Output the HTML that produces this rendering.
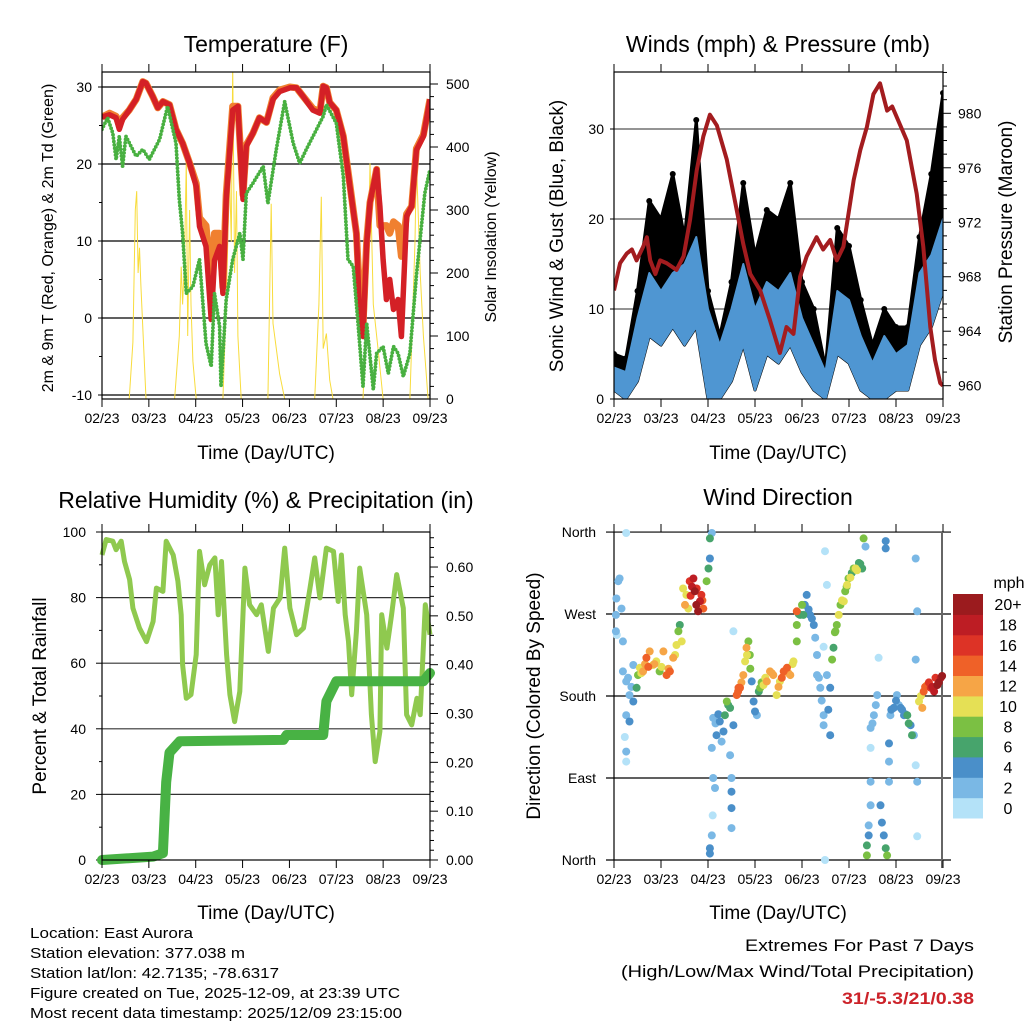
<!DOCTYPE html>
<html><head><meta charset="utf-8"><title>Station Meteogram</title>
<style>
html,body{margin:0;padding:0;background:#fff;}
svg{display:block;font-family:"Liberation Sans",Arial,sans-serif;}
</style></head>
<body>
<svg id="chart" width="1024" height="1024" viewBox="0 0 1024 1024" xmlns="http://www.w3.org/2000/svg">
<defs>
<clipPath id="c1"><rect x="102" y="72" width="328" height="327"/></clipPath>
<clipPath id="c2"><rect x="614" y="72" width="329" height="327"/></clipPath>
<clipPath id="c3"><rect x="96" y="525" width="340" height="340"/></clipPath>
</defs>
<rect width="1024" height="1024" fill="#fff"/>
<g id="p1"></g>
<g id="p2"></g>
<g id="p3"></g>
<g id="p4"></g>

<text x="266" y="52" font-size="23" text-anchor="middle">Temperature (F)</text>
<text x="778" y="52" font-size="23" text-anchor="middle">Winds (mph) &amp; Pressure (mb)</text>
<text x="266" y="508" font-size="23" text-anchor="middle">Relative Humidity (%) &amp; Precipitation (in)</text>
<text x="778" y="505" font-size="23" text-anchor="middle">Wind Direction</text>

<text x="266" y="459" font-size="19" text-anchor="middle">Time (Day/UTC)</text>
<text x="778" y="459" font-size="19" text-anchor="middle">Time (Day/UTC)</text>
<text x="266" y="919" font-size="19" text-anchor="middle">Time (Day/UTC)</text>
<text x="778" y="919" font-size="19" text-anchor="middle">Time (Day/UTC)</text>

<text transform="translate(53,238) rotate(-90)" font-size="16" text-anchor="middle">2m &amp; 9m T (Red, Orange) &amp; 2m Td (Green)</text>
<text transform="translate(496,237) rotate(-90)" font-size="16" text-anchor="middle">Solar Insolation (Yellow)</text>
<text transform="translate(563,236) rotate(-90)" font-size="19" text-anchor="middle">Sonic Wind &amp; Gust (Blue, Black)</text>
<text transform="translate(1012,232) rotate(-90)" font-size="19" text-anchor="middle">Station Pressure (Maroon)</text>
<text transform="translate(46,696) rotate(-90)" font-size="19" text-anchor="middle">Percent &amp; Total Rainfall</text>
<text transform="translate(540,696) rotate(-90)" font-size="19" text-anchor="middle">Direction (Colored By Speed)</text>

<g font-size="15">
<text x="30" y="938" textLength="163" lengthAdjust="spacingAndGlyphs">Location: East Aurora</text>
<text x="30" y="958" textLength="215" lengthAdjust="spacingAndGlyphs">Station elevation: 377.038 m</text>
<text x="30" y="978" textLength="249" lengthAdjust="spacingAndGlyphs">Station lat/lon: 42.7135; -78.6317</text>
<text x="30" y="998" textLength="370" lengthAdjust="spacingAndGlyphs">Figure created on Tue, 2025-12-09, at 23:39 UTC</text>
<text x="30" y="1018" textLength="372" lengthAdjust="spacingAndGlyphs">Most recent data timestamp: 2025/12/09 23:15:00</text>
</g>
<g font-size="17">
<text x="974" y="951" text-anchor="end" textLength="229" lengthAdjust="spacingAndGlyphs">Extremes For Past 7 Days</text>
<text x="974" y="977" text-anchor="end" textLength="353" lengthAdjust="spacingAndGlyphs">(High/Low/Max Wind/Total Precipitation)</text>
<text x="974" y="1004" text-anchor="end" font-weight="bold" fill="#cc2229" textLength="132" lengthAdjust="spacingAndGlyphs">31/-5.3/21/0.38</text>
</g>
</svg>
<script>
// ---------- DATA ----------
const dayLabels = ["02/23","03/23","04/23","05/23","06/23","07/23","08/23","09/23"];
// Temperature panel
const tDay = [0,0.16,0.30,0.37,0.44,0.58,0.73,0.87,0.94,1.08,1.19,1.30,1.44,1.58,1.72,1.87,2.01,2.08,2.22,2.33,2.40,2.51,2.58,2.65,2.79,2.90,3.01,3.08,3.22,3.36,3.51,3.65,3.79,4.01,4.15,4.29,4.50,4.65,4.72,4.79,4.86,5.00,5.15,5.29,5.43,5.50,5.57,5.65,5.72,5.86,5.93,6.00,6.07,6.14,6.22,6.32,6.39,6.50,6.61,6.71,6.86,7.00];
const temp2m = [26.1,26.4,26,24.5,25.8,27,28.4,30.7,30.5,28.8,27.3,28.1,27.7,24.5,22.7,20.1,17.1,11.9,9.3,-0.2,7.5,9.3,3.2,15.4,27,27.5,15.4,22.3,24,26,25.4,28.4,29.4,29.9,29.9,28.8,27,26.6,30.1,29.9,28,27,23.6,17.1,11,-0.2,-2.4,9.7,15,19.3,14.5,7.6,2.4,5,1.1,2.4,-2.4,13.2,14.5,21.8,23.6,28.4];
const temp9m = [26.1,26.6,26.2,25,26,27,28.4,30.7,30.5,28.8,27.3,28.1,27.7,24.5,22.7,20.1,17.5,13,12,5,11,11,4,16,27.5,27.5,16,22.5,24,26,25.4,28.6,29.6,30,29.9,28.8,27.2,26.8,30.1,29.9,28,27,23.6,17.3,11,3,-1,10,15,19.3,12,12,12,11,12.5,12,8,13.5,14.5,22,23.8,28.4];
const tdDay = [0,0.12,0.23,0.30,0.37,0.44,0.51,0.73,0.87,1.01,1.23,1.40,1.58,1.65,1.72,1.80,1.94,2.08,2.22,2.33,2.40,2.51,2.54,2.65,2.79,2.94,3.01,3.08,3.22,3.44,3.54,3.72,3.90,4.08,4.22,4.36,4.58,4.72,4.79,5.00,5.15,5.25,5.36,5.47,5.57,5.65,5.79,5.86,6.00,6.11,6.22,6.32,6.43,6.57,6.71,6.89,7.00];
const dewpoint = [24.5,26,24,20.6,23.6,19.7,23.6,21,21.9,20.6,23.2,27.5,22.7,15.4,11,3.2,4.1,7.6,-3.3,-6.3,3.2,-1.1,-8.9,2.4,7.6,11,7.6,16.2,17.5,19.7,14.9,21.9,28.1,22.7,20.1,21.9,24.5,26.2,27.7,25.3,18.4,7.6,6.7,-1.1,-8.9,-0.7,-9.3,-4.6,-3.7,-7.2,-3.7,-4.6,-7.6,-4.6,5.5,16.2,19.3];
const solarDay = [0,0.58,0.66,0.71,0.74,0.77,0.80,0.83,0.91,0.94,1.55,1.65,1.69,1.72,1.76,1.80,1.83,1.87,1.90,1.94,2.01,2.58,2.65,2.72,2.76,2.79,2.83,2.87,2.90,2.97,3.54,3.61,3.65,3.72,3.79,3.90,4.54,4.63,4.68,4.72,4.79,4.86,4.93,5.57,5.68,5.72,5.79,5.89,6.00,6.57,6.68,6.71,6.79,6.86,6.96,7.00];
const solarVal = [0,0,90,300,330,200,240,180,50,0,0,100,210,150,220,379,100,300,150,60,0,0,150,360,250,530,200,330,100,0,0,310,120,80,40,0,0,150,321,80,104,30,0,0,200,374,150,80,0,0,250,380,200,100,0,0];
// Winds panel
const windDay = [0,0.25,0.5,0.75,1,1.25,1.5,1.75,2,2.25,2.5,2.75,3,3.25,3.5,3.75,4,4.25,4.5,4.75,5,5.25,5.5,5.75,6,6.25,6.5,6.75,7];
const windLow = [1,0,2,7,6,8,6,8,0,0,2,6,1,5,4,6,3,1,0,5,4,1,0,0,1,1,6,8,12];
const windHigh = [3.5,3,9,14,12,14,15,18,10,6,10,15,10,13,12,14,9,6,3,12,11,7,4,7,5,6,14,16,20];
const gustHigh = [5,4.5,12,22,20,25,18,31,12,7,13,24,16,21,20,24,13,10,3.5,19,17,11,6,10,8,8,18,25,34];
const presDay = [0,0.13,0.27,0.38,0.48,0.62,0.70,0.77,0.88,0.98,1.12,1.33,1.48,1.62,1.76,1.90,2.04,2.19,2.40,2.61,2.75,2.90,3.11,3.32,3.53,3.67,3.82,3.96,4.10,4.31,4.45,4.60,4.74,4.88,5.10,5.24,5.38,5.52,5.66,5.81,5.92,6.23,6.44,6.58,6.73,6.83,6.94,7.00];
const pressure = [967.0,969.0,969.7,970.0,969.2,970.2,970.9,969.2,968.2,969.2,969.0,968.5,969.5,972.2,975.8,978.3,979.9,979.1,976.6,972.9,970.4,968.2,967.0,964.8,962.4,964.3,963.8,968.0,969.5,970.9,970.0,970.7,969.2,970.2,975.1,977.3,979.0,981.4,982.2,980.2,980.5,978.0,974.1,970.2,964.3,961.9,960.2,960.0];
// Humidity panel
const rhDay = [0,0.09,0.23,0.30,0.41,0.48,0.59,0.66,0.80,0.95,1.09,1.16,1.30,1.37,1.52,1.62,1.69,1.72,1.80,1.90,2.01,2.08,2.19,2.30,2.41,2.48,2.55,2.66,2.73,2.83,2.94,3.05,3.15,3.30,3.40,3.55,3.66,3.80,3.90,4.01,4.15,4.30,4.44,4.54,4.65,4.79,4.94,5.04,5.11,5.19,5.26,5.33,5.43,5.50,5.65,5.75,5.83,5.93,5.97,6.08,6.18,6.29,6.43,6.50,6.61,6.72,6.79,6.90,7.00];
const rh = [93,97.7,97.2,94.6,97.2,91,85.5,76.8,70.7,66.6,72.7,82.9,81.9,97.2,93,85,74.8,59.5,49.3,50.4,62.6,94.1,83.9,90,92.1,74.8,91,62.6,50.4,42.2,51.4,89,77.8,74.8,77.8,63.6,76.8,79.9,95.1,76.8,68.7,70.7,82.9,92.1,79.9,95.1,94.1,78.8,93,74.8,66.6,50.4,69.7,89,74.8,44.3,30,39.2,74.8,64.6,74.8,87,76.8,44.3,41.2,49.3,44.3,77.8,68.7];
const precipDay = [0,1.09,1.30,1.37,1.44,1.66,3.87,3.94,4.72,4.79,5.00,5.15,6.86,7.00];
const precip = [0,0.007,0.014,0.16,0.22,0.243,0.246,0.256,0.256,0.325,0.366,0.366,0.366,0.383];
// Wind direction panel
const dirDay = [0.04,0.05,0.09,0.12,0.04,0.16,0.06,0.26,0.19,0.19,0.26,0.33,0.26,0.33,0.41,0.41,0.26,0.26,0.23,0.48,0.51,0.55,0.62,0.69,0.76,0.83,0.90,0.97,1.05,1.12,1.19,1.26,1.33,1.37,1.40,1.44,1.47,1.51,1.54,1.61,1.69,1.76,1.83,1.79,1.86,1.90,1.72,1.58,1.97,2.01,2.04,2.04,2.08,2.04,2.04,2.08,2.10,2.11,2.15,2.08,2.11,2.18,2.25,2.29,2.33,2.40,2.47,2.36,2.50,2.50,2.50,2.50,2.54,2.47,2.54,2.61,2.65,2.68,2.75,2.79,2.82,2.86,2.89,2.93,2.97,3.00,3.04,3.11,3.18,3.25,3.32,3.39,3.46,3.53,3.61,3.68,3.75,3.82,3.89,3.89,3.89,3.96,4.00,4.03,4.10,4.17,4.25,4.28,4.32,4.32,4.39,4.46,4.46,4.60,4.60,4.53,4.49,4.53,4.46,4.49,4.64,4.67,4.71,4.74,4.78,4.82,4.89,4.92,4.96,4.99,5.06,5.14,5.21,5.28,5.31,5.35,5.38,5.38,5.42,5.42,5.46,5.46,5.46,5.46,5.53,5.60,5.63,5.67,5.70,5.74,5.78,5.81,5.78,5.78,5.85,5.85,5.85,5.88,5.95,6.02,6.10,6.17,6.24,6.31,6.34,6.38,6.42,6.45,6.42,6.42,6.45,6.45,6.49,6.56,6.59,6.66,6.74,6.81,6.88,6.95,6.98,6.84,
0.30,0.37,0.58,0.66,0.73,0.86,1.01,1.16,1.30,1.63,1.66,1.75,1.88,2.16,2.22,2.43,2.64,2.71,2.83,2.90,3.08,3.14,3.22,3.36,3.50,3.57,3.71,3.80,3.93,4.06,4.14,4.21,4.36,4.42,4.56,4.70,4.85,4.95,5.03,5.10,5.17,5.24,5.50,5.57,5.90,6.00,6.06,6.13,6.20,6.27,6.53,6.62,6.70,6.77,6.91];
const dirDeg = [269,287,306,309,251,276,247,359,240,207,196,181,159,152,174,214,119,108,135,189,203,211,207,222,229,214,218,207,229,203,207,222,236,251,258,240,298,280,291,306,309,298,284,273,291,276,295,276,306,320,331,353,359,7,13,27,49,90,79,123,156,137,152,130,141,174,167,159,90,75,35,57,148,115,251,181,189,189,203,218,233,240,225,196,174,163,159,189,192,196,207,203,181,196,207,211,203,218,240,258,273,269,280,269,291,269,258,244,225,203,189,159,148,137,189,203,339,302,234,0,220,233,251,258,269,280,284,295,302,309,315,320,326,320,353,344,16,5,27,38,60,86,123,145,159,181,222,60,41,27,13,5,350,342,86,108,128,159,167,181,167,159,159,148,137,137,104,86,220,331,273,26,174,167,185,192,189,185,192,200,202,200,
200,190,205,215,212,215,212,210,225,290,300,280,285,150,160,170,185,195,225,210,185,195,200,205,190,200,205,215,270,280,275,265,200,175,165,250,285,300,310,320,318,325,150,170,165,175,170,165,160,150,180,190,195,190,195];
const dirSpd = [2,2,2,2,2,2,1,0,2,2,2,2,2,4,4,2,2,1,1,6,8,10,12,14,12,10,10,8,12,14,14,12,10,8,6,10,10,12,10,16,18,16,18,20,16,14,20,10,8,6,4,6,2,4,4,2,1,2,2,2,2,4,4,2,4,8,6,6,2,4,2,4,4,2,1,14,14,14,12,10,12,8,8,4,4,4,2,8,10,12,12,12,10,10,14,14,12,10,8,8,14,6,8,6,4,4,4,2,2,2,2,2,2,4,4,2,1,1,1,1,8,6,8,8,10,8,10,8,10,8,6,10,6,6,8,2,6,8,4,2,2,2,1,2,2,2,1,4,4,4,6,8,4,4,2,2,4,2,4,2,4,4,6,4,6,2,1,2,2,2,2,1,10,12,14,12,16,18,20,18,20,16,
2,2,10,12,14,12,10,12,10,16,18,20,14,2,4,6,14,12,10,8,6,8,10,12,12,14,12,10,6,4,4,4,2,2,4,8,10,8,10,8,10,6,2,2,4,4,2,4,4,6,10,14,16,18,20];
const speedColors = ["#b4e2f8","#7ab8e5","#4a8fc9","#47a46c","#7bc043","#e5e055","#f6a546","#ef6128","#dd3326","#bd1d24","#9b1b1e"];
const colorbarLabels = ["0","2","4","6","8","10","12","14","16","18","20+"];
const dirLabels = ["North","East","South","West","North"];
const dirTicks = [0,90,180,270,360];

// ---------- SCALES ----------
const NS="http://www.w3.org/2000/svg";
const xL = d => 102 + d*(328/7);
const xR = d => 614 + d*(329/7);
const yT = v => 318 - v*7.7;
const yS = v => 399 - v*0.63;
const yW = v => 399 - v*9;
const yP = p => 385.7 - (p-960)*13.62;
const yRH = v => 860 - v*3.28;
const yPr = v => 860 - v*488.3;
const yD = d => 860 - d*0.911;

function el(tag, parent, attrs){
  const e=document.createElementNS(NS,tag);
  for(const k in attrs) e.setAttribute(k,attrs[k]);
  parent.appendChild(e);
  return e;
}
function pts(xs,ys,fx,fy){return xs.map((d,i)=>fx(d).toFixed(1)+","+fy(ys[i]).toFixed(1)).join(" ");}
function line(p,x1,y1,x2,y2,stroke,w,name){
  const e=el("line",p,{x1:x1,y1:y1,x2:x2,y2:y2,stroke:stroke,"stroke-width":w});
  
  
  return e;
}
function txt(p,x,y,s,anchor,size,name){
  const e=el("text",p,{x:x,y:y,"text-anchor":anchor,"font-size":size});
  e.textContent=s;
  
  
  return e;
}
function xAxis(p,fx,yb,yt){
  dayLabels.forEach((lab,i)=>{
    const x=fx(i);
    line(p,x,yb,x,yb+8,"#000",1,"x-tick");
    line(p,x,yt,x,yt-8,"#000",1,"x-tick-top");
    txt(p,x,yb+24,lab,"middle",14,"x-tick-label");
  });
}

// ---------- PANEL 1 ----------
(function(){
  const p=document.getElementById("p1");
  [30,20,10,0,-10].forEach(v=>{
    line(p,102,yT(v),430,yT(v),"#000",1.2,"temp-gridline");
    line(p,98,yT(v),102,yT(v),"#000",1,"temp-y-tick");
    txt(p,92,yT(v)+5,String(v),"end",14,"temp-y-tick-label");
  });
  for(let v=-5;v<=25;v+=10) line(p,99,yT(v),102,yT(v),"#000",1,"temp-minor-tick");
  [0,100,200,300,400,500].forEach(v=>{
    line(p,430,yS(v),438,yS(v),"#000",1,"solar-y-tick");
    txt(p,446,yS(v)+5,String(v),"start",14,"solar-y-tick-label");
  });
  for(let v=20;v<=500;v+=20) if(v%100) line(p,430,yS(v),434,yS(v),"#000",1,"solar-minor-tick");
  const g=el("g",p,{"clip-path":"url(#c1)"});
  const sol=el("polyline",g,{points:pts(solarDay,solarVal,xL,yS),fill:"none",stroke:"#f8dc3c","stroke-width":1});
  
  
  const o=el("polyline",g,{points:pts(tDay,temp9m,xL,yT),fill:"none",stroke:"#f08030","stroke-width":7,"stroke-linejoin":"round"});
  
  
  const r=el("polyline",g,{points:pts(tDay,temp2m,xL,yT),fill:"none",stroke:"#d42026","stroke-width":5.5,"stroke-linejoin":"round"});
  
  
  const gr=el("polyline",g,{points:pts(tdDay,dewpoint,xL,yT),fill:"none",stroke:"#48b040","stroke-width":3.8,"stroke-dasharray":"0 3.4","stroke-linecap":"round","stroke-linejoin":"round"});
  
  
  const fr=el("rect",p,{x:102,y:72,width:328,height:327,fill:"none",stroke:"#000","stroke-width":1.2});
  
  
  xAxis(p,xL,399,72);
})();

// ---------- PANEL 2 ----------
(function(){
  const p=document.getElementById("p2");
  [10,20,30].forEach(v=>line(p,614,yW(v),943,yW(v),"#555",1.2,"wind-gridline"));
  [0,10,20,30].forEach(v=>{
    line(p,610,yW(v),614,yW(v),"#000",1,"wind-y-tick");
    txt(p,604,yW(v)+5,String(v),"end",14,"wind-y-tick-label");
  });
  [960,964,968,972,976,980].forEach(v=>{
    line(p,943,yP(v),951,yP(v),"#000",1,"pressure-y-tick");
    txt(p,958,yP(v)+5,String(v),"start",14,"pressure-y-tick-label");
  });
  for(let v=960;v<=983;v++) if(v%4) line(p,943,yP(v),947,yP(v),"#000",1,"pressure-minor-tick");
  const g=el("g",p,{"clip-path":"url(#c2)"});
  const gustPoly=windDay.map((d,i)=>xR(d).toFixed(1)+","+yW(gustHigh[i]).toFixed(1)).concat(windDay.slice().reverse().map((d,j)=>{const i=windDay.length-1-j;return xR(d).toFixed(1)+","+yW(windLow[i]).toFixed(1);})).join(" ");
  const gp=el("polygon",g,{points:gustPoly,fill:"#000","stroke":"#000","stroke-width":3,"stroke-linejoin":"round"});
  
  
  windDay.forEach((d,i)=>{
    const c=el("circle",g,{cx:xR(d),cy:yW(gustHigh[i]),r:3,fill:"#000"});
    
    
  });
  const windPoly=windDay.map((d,i)=>xR(d).toFixed(1)+","+yW(windHigh[i]).toFixed(1)).concat(windDay.slice().reverse().map((d,j)=>{const i=windDay.length-1-j;return xR(d).toFixed(1)+","+yW(windLow[i]).toFixed(1);})).join(" ");
  const wp=el("polygon",g,{points:windPoly,fill:"#4f96d2",stroke:"#4f96d2","stroke-width":2,"stroke-linejoin":"round"});
  
  
  const pl=el("polyline",g,{points:pts(presDay,pressure,xR,yP),fill:"none",stroke:"#a31c1f","stroke-width":4,"stroke-linejoin":"round"});
  
  
  const fr=el("rect",p,{x:614,y:72,width:329,height:327,fill:"none",stroke:"#000","stroke-width":1.2});
  
  
  xAxis(p,xR,399,72);
})();

// ---------- PANEL 3 ----------
(function(){
  const p=document.getElementById("p3");
  [20,40,60,80].forEach(v=>line(p,102,yRH(v),430,yRH(v),"#333",1.2,"rh-gridline"));
  [0,20,40,60,80,100].forEach(v=>{
    line(p,96,yRH(v),102,yRH(v),"#000",1,"rh-y-tick");
    txt(p,86,yRH(v)+5,String(v),"end",14,"rh-y-tick-label");
  });
  for(let v=10;v<100;v+=20) line(p,99,yRH(v),102,yRH(v),"#000",1,"rh-minor-tick");
  ["0.00","0.10","0.20","0.30","0.40","0.50","0.60"].forEach(s=>{
    const v=parseFloat(s);
    line(p,430,yPr(v),438,yPr(v),"#000",1,"precip-y-tick");
    txt(p,446,yPr(v)+5,s,"start",14,"precip-y-tick-label");
  });
  for(let v=0.02;v<0.67;v+=0.02) if(Math.round(v*100)%10) line(p,430,yPr(v),434,yPr(v),"#000",1,"precip-minor-tick");
  const g=el("g",p,{"clip-path":"url(#c3)"});
  const rl=el("polyline",g,{points:pts(rhDay,rh,xL,yRH),fill:"none",stroke:"#8fc94f","stroke-width":5,"stroke-linejoin":"round"});
  
  
  const pr=el("polyline",g,{points:pts(precipDay,precip,xL,yPr),fill:"none",stroke:"#48b244","stroke-width":10,"stroke-linejoin":"round","stroke-linecap":"round"});
  
  
  const fr=el("rect",p,{x:102,y:532,width:328,height:328,fill:"none",stroke:"#000","stroke-width":1.2});
  
  
  xAxis(p,xL,860,532);
})();

// ---------- PANEL 4 ----------
(function(){
  const p=document.getElementById("p4");
  dirTicks.forEach((v,i)=>{
    line(p,606,yD(v),951,yD(v),"#000",1.2,"direction-gridline");
    txt(p,596,yD(v)+5,dirLabels[i],"end",14,"direction-y-tick-label");
  });
  line(p,614,532,614,860,"#000",1.2,"direction-left-axis");
  line(p,942,532,942,868,"#666",2,"direction-right-axis");
  const n=Math.min(dirDay.length,dirDeg.length,dirSpd.length);
  const idx=[];
  for(let i=0;i<n;i++) idx.push(i);
  idx.sort((a,b)=>dirSpd[a]-dirSpd[b]);
  idx.forEach(i=>{
    const ci=Math.min(10,Math.floor(dirSpd[i]/2));
    const c=el("circle",p,{cx:xR(dirDay[i]).toFixed(1),cy:yD(dirDeg[i]).toFixed(1),r:4,fill:speedColors[ci]});
    
    
  });
  xAxis(p,xR,860,532);
  const cb=el("g",p,{});
  
  
  const bh=224/11;
  speedColors.forEach((c,i)=>{
    const y=594+(10-i)*bh;
    const r=el("rect",cb,{x:953,y:y.toFixed(1),width:30,height:(bh+0.5).toFixed(1),fill:c});
    
    
    txt(cb,1008,y+bh/2+6,colorbarLabels[i],"middle",16,"colorbar-label");
  });
  txt(cb,1009,588,"mph","middle",16,"colorbar-title");
})();
</script>
</body></html>
